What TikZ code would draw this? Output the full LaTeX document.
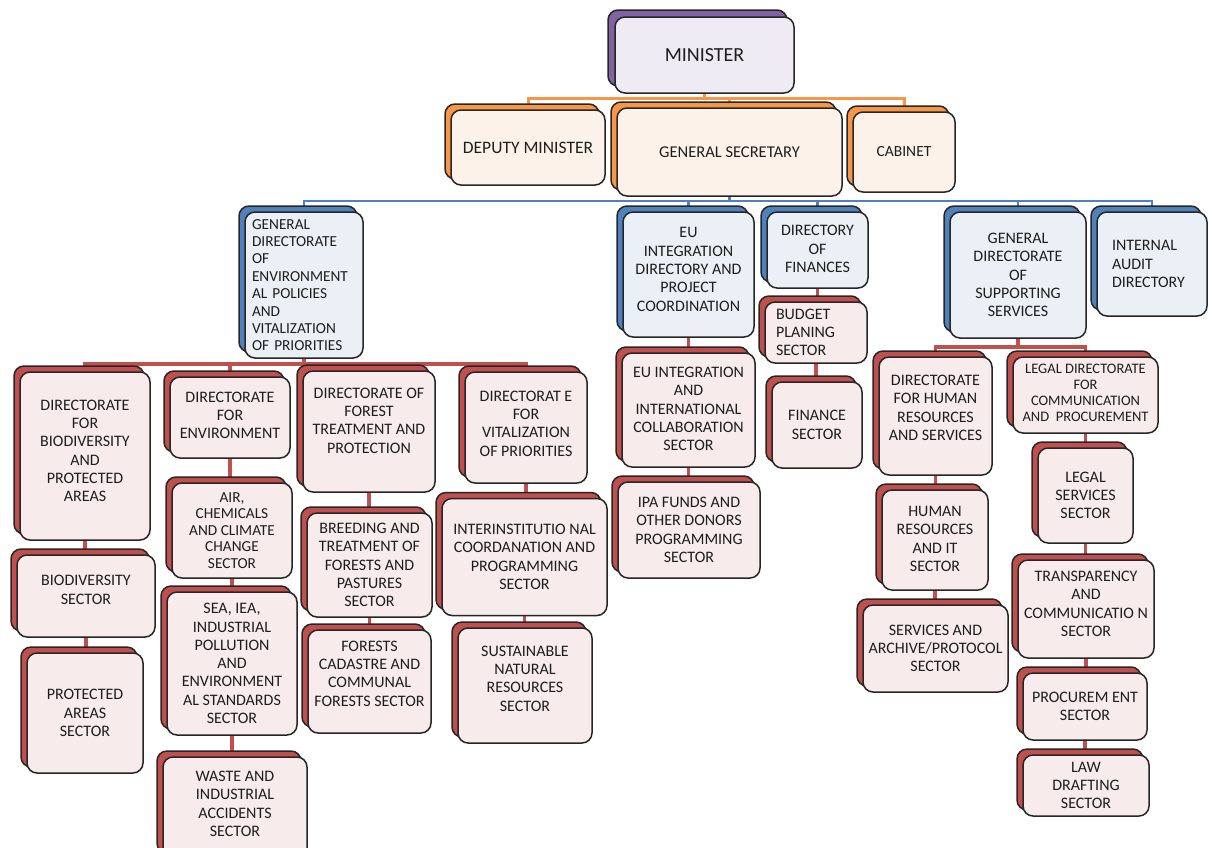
\documentclass[tikz,border=0pt]{standalone}
\usepackage{fontspec}
\setmainfont{Carlito}
\usetikzlibrary{shadows,backgrounds}

\definecolor{ink}{HTML}{1E1E1E}
\definecolor{purpleshade}{HTML}{8064A2}
\definecolor{purplefill}{HTML}{EEEBF4}
\definecolor{orangeshade}{HTML}{F79646}
\definecolor{orangefill}{HTML}{FDF2E9}
\definecolor{blueshade}{HTML}{4F81BD}
\definecolor{bluefill}{HTML}{EBF0F7}
\definecolor{redshade}{HTML}{C0504D}
\definecolor{redfill}{HTML}{F7EBEB}

% extra empty line to push the text up in its box
\newcommand{\lift}[1]{\\[#1]\mbox{}}

\begin{document}
\begin{tikzpicture}[x=1pt, y=-1pt,
	block/.style={
		rectangle, rounded corners=10pt,
		draw=black!85, line width=1.5pt,
		text=ink, align=center, inner sep=2pt,
		font=\fontsize{16}{18.3}\selectfont
	},
	boxsize/.style 2 args={minimum width=#1pt, minimum height=#2pt},
	head/.style={block, fill=purplefill,
		copy shadow={shadow xshift=-7pt, shadow yshift=7pt, fill=purpleshade, draw=black!85, line width=1.5pt}},
	deputy/.style={block, fill=orangefill,
		copy shadow={shadow xshift=-6pt, shadow yshift=6pt, fill=orangeshade, draw=black!85, line width=1.5pt}},
	directory/.style={block, fill=bluefill,
		copy shadow={shadow xshift=-6pt, shadow yshift=6pt, fill=blueshade, draw=black!85, line width=1.5pt}},
	sector/.style={block, fill=redfill,
		copy shadow={shadow xshift=-6pt, shadow yshift=6pt, fill=redshade, draw=black!85, line width=1.5pt}},
	line/.style={draw, line width=3.5pt, redshade},
	orangeline/.style={draw, line width=3pt, orangeshade},
	blueline/.style={draw, line width=2.5pt, blueshade},
	]
	\useasboundingbox (0,0) rectangle (1212,847);
	\begin{pgfonlayer}{background}
		\fill [white] (0,0) rectangle (1212,847);
	\end{pgfonlayer}

	% top
	\node [head, boxsize={179}{76}, font=\fontsize{20}{24}\selectfont] (min) at (704.5,55) {MINISTER};
	\node [deputy, boxsize={154}{75}, font=\fontsize{17.5}{21}\selectfont] (dep) at (528,147.5) {DEPUTY MINISTER};
	\node [deputy, boxsize={225}{88}, font=\fontsize{16.5}{20}\selectfont] (gs) at (729.5,152) {GENERAL SECRETARY};
	\node [deputy, boxsize={102}{80}, font=\fontsize{15.5}{19}\selectfont] (cab) at (904,152) {CABINET};

	% directorates
	\node [directory, boxsize={118}{146}, align=left, text width=104pt, font=\fontsize{15.3}{17.4}\selectfont] (gdep) at (304,285)
		{GENERAL\\DIRECTORATE\\OF\\ENVIRONMENT\\AL POLICIES\\AND\\VITALIZATION\\OF PRIORITIES};
	\node [directory, boxsize={131}{125}] (eud) at (688.5,274.5)
		{EU\\INTEGRATION\\DIRECTORY AND\\PROJECT\\COORDINATION\lift{-8pt}};
	\node [directory, boxsize={101}{76}] (fin) at (817.5,250)
		{DIRECTORY\\OF\\FINANCES\lift{-16pt}};
	\node [directory, boxsize={136}{126}] (gdss) at (1018,275)
		{GENERAL\\DIRECTORATE\\OF\\SUPPORTING\\SERVICES};
	\node [directory, boxsize={110}{104}, align=left, text width=80pt, font=\fontsize{16}{18.5}\selectfont] (iad) at (1152,264)
		{INTERNAL\\AUDIT\\DIRECTORY};

	% environmental policies
	\node [sector, boxsize={130}{168}] (bdir) at (85,456)
		{DIRECTORATE\\FOR\\BIODIVERSITY\\AND\\PROTECTED\\AREAS\lift{-8pt}};
	\node [sector, boxsize={138}{82}] (bsec) at (86,596) {BIODIVERSITY\\SECTOR\lift{-6pt}};
	\node [sector, boxsize={116}{120}] (psec) at (85,713) {PROTECTED\\AREAS\\SECTOR};

	\node [sector, boxsize={120}{81}] (env) at (230,417.5) {DIRECTORATE\\FOR\\ENVIRONMENT\lift{-14pt}};
	\node [sector, boxsize={120}{95}, font=\fontsize{15.3}{16.5}\selectfont] (air) at (232,530.5)
		{AIR,\\CHEMICALS\\AND CLIMATE\\CHANGE\\SECTOR};
	\node [sector, boxsize={130}{143}] (sea) at (232,663.5)
		{SEA, IEA,\\INDUSTRIAL\\POLLUTION\\AND\\ENVIRONMENT\\AL STANDARDS\\SECTOR};
	\node [sector, boxsize={144}{102}] (waste) at (235,808)
		{WASTE AND\\INDUSTRIAL\\ACCIDENTS\\SECTOR\lift{-10pt}};

	\node [sector, boxsize={132}{121}] (fdir) at (369,431.5)
		{DIRECTORATE OF\\FOREST\\TREATMENT AND\\PROTECTION\lift{4pt}};
	\node [sector, boxsize={125}{104}] (breed) at (369.5,565)
		{BREEDING AND\\TREATMENT OF\\FORESTS AND\\PASTURES\\SECTOR};
	\node [sector, boxsize={123}{103}] (cad) at (369.5,681.5)
		{FORESTS\\CADASTRE AND\\COMMUNAL\\FORESTS SECTOR\lift{-2pt}};

	\node [sector, boxsize={122}{111}] (vdir) at (526,427.5)
		{DIRECTORAT E\\FOR\\VITALIZATION\\OF PRIORITIES\lift{-10pt}};
	\node [sector, boxsize={165}{117}] (inter) at (524.5,557)
		{INTERINSTITUTIO NAL\\COORDANATION AND\\PROGRAMMING\\SECTOR};
	\node [sector, boxsize={134}{115}] (sust) at (525,685.5)
		{SUSTAINABLE\\NATURAL\\RESOURCES\\SECTOR\lift{-4pt}};

	% eu integration and finances
	\node [sector, boxsize={133}{114}] (eus) at (688.5,410)
		{EU INTEGRATION\\AND\\INTERNATIONAL\\COLLABORATION\\SECTOR\lift{-16pt}};
	\node [sector, boxsize={142}{96}] (ipa) at (689,530)
		{IPA FUNDS AND\\OTHER DONORS\\PROGRAMMING\\SECTOR};
	\node [sector, boxsize={102}{61}, align=left, text width=80pt] (bud) at (816,332.5)
		{BUDGET\\PLANING\\SECTOR};
	\node [sector, boxsize={90}{86}] (finsec) at (817,425) {FINANCE\\SECTOR};

	% supporting services
	\node [sector, boxsize={113}{118}] (hrd) at (935.5,416)
		{DIRECTORATE\\FOR HUMAN\\RESOURCES\\AND SERVICES\lift{-2pt}};
	\node [sector, boxsize={106}{100}] (hrit) at (935,540)
		{HUMAN\\RESOURCES\\AND IT\\SECTOR\lift{-16pt}};
	\node [sector, boxsize={145}{87}] (arch) at (935.5,648.5)
		{SERVICES AND\\ARCHIVE/PROTOCOL\\SECTOR};
	\node [sector, boxsize={145}{76}, font=\fontsize{14.5}{16}\selectfont] (legd) at (1085.5,395)
		{LEGAL DIRECTORATE\\FOR\\COMMUNICATION\\AND~ PROCUREMENT\lift{-12pt}};
	\node [sector, boxsize={95}{95}] (legs) at (1085.5,495.5) {LEGAL\\SERVICES\\SECTOR};
	\node [sector, boxsize={136}{98}] (trans) at (1086,609)
		{TRANSPARENCY\\AND\\COMMUNICATIO N\\SECTOR\lift{-8pt}};
	\node [sector, boxsize={124}{67}] (proc) at (1085,706.5) {PROCUREM ENT\\SECTOR};
	\node [sector, boxsize={126}{61}] (law) at (1086,785.5) {LAW\\DRAFTING\\SECTOR};

	\begin{pgfonlayer}{background}
		\path [orangeline] (min.south) -- ++(0,5) -| (dep.north);
		\path [orangeline] (min.south) -- ++(0,5) -| (gs.north);
		\path [orangeline] (min.south) -- ++(0,5) -| (cab.north);

		\path [blueline] (gs.south) -- ++(0,4) -| (gdep.north);
		\path [blueline] (gs.south) -- ++(0,4) -| (eud.north);
		\path [blueline] (gs.south) -- ++(0,4) -| (fin.north);
		\path [blueline] (gs.south) -- ++(0,4) -| (gdss.north);
		\path [blueline] (gs.south) -- ++(0,4) -| (iad.north);

		\path [line] (gdep.south) -- ++(0,5) -| (bdir.north);
		\path [line] (gdep.south) -- ++(0,5) -| (env.north);
		\path [line] (gdep.south) -- ++(0,5) -| (fdir.north);
		\path [line] (gdep.south) -- ++(0,5) -| (vdir.north);
		\path [line] (bdir.south) -- (bdir.south |- bsec.north);
		\path [line] (bsec.south) -- (bsec.south |- psec.north);
		\path [line] (env.south) -- (env.south |- air.north);
		\path [line] (air.south) -- (air.south |- sea.north);
		\path [line] (sea.south) -- (sea.south |- waste.north);
		\path [line] (fdir.south) -- (fdir.south |- breed.north);
		\path [line] (breed.south) -- (breed.south |- cad.north);
		\path [line] (vdir.south) -- (vdir.south |- inter.north);
		\path [line] (inter.south) -- (inter.south |- sust.north);

		\path [line] (eud.south) -- (eud.south |- eus.north);
		\path [line] (eus.south) -- (eus.south |- ipa.north);
		\path [line] (fin.south) -- (fin.south |- bud.north);
		\path [line] (bud.south) -- (bud.south |- finsec.north);

		\path [line] (gdss.south) -- ++(0,8) -| (hrd.north);
		\path [line] (gdss.south) -- ++(0,8) -| (legd.north);
		\path [line] (hrd.south) -- (hrd.south |- hrit.north);
		\path [line] (hrit.south) -- (hrit.south |- arch.north);
		\path [line] (legd.south) -- (legd.south |- legs.north);
		\path [line] (legs.south) -- (legs.south |- trans.north);
		\path [line] (trans.south) -- (trans.south |- proc.north);
		\path [line] (proc.south) -- (proc.south |- law.north);
	\end{pgfonlayer}
\end{tikzpicture}
\end{document}
